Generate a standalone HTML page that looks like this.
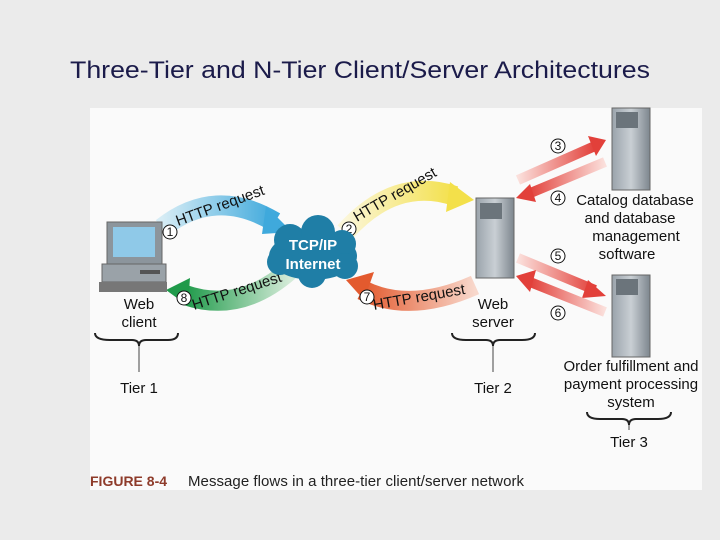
<!DOCTYPE html>
<html><head><meta charset="utf-8"><style>
html,body{margin:0;padding:0;background:#ebebeb;width:720px;height:540px;overflow:hidden}
</style></head><body>
<svg width="720" height="540" xmlns="http://www.w3.org/2000/svg" font-family="Liberation Sans, sans-serif">
<defs>
<linearGradient id="bl" x1="0" x2="1"><stop offset="0" stop-color="#d6ecf5"/><stop offset="1" stop-color="#3fa9dc"/></linearGradient>
<linearGradient id="ye" x1="0" x2="1"><stop offset="0" stop-color="#fbf6d8"/><stop offset="1" stop-color="#f3e04a"/></linearGradient>
<linearGradient id="gr" x1="1" x2="0"><stop offset="0" stop-color="#d4ebd8"/><stop offset="1" stop-color="#1f9a4a"/></linearGradient>
<linearGradient id="rd" x1="1" x2="0"><stop offset="0" stop-color="#f8d8cc"/><stop offset="1" stop-color="#e35a2e"/></linearGradient>
<linearGradient id="rr" x1="0" x2="1"><stop offset="0" stop-color="#fbe0dc"/><stop offset="1" stop-color="#e2403a"/></linearGradient>
<linearGradient id="rl" x1="1" x2="0"><stop offset="0" stop-color="#fbe0dc"/><stop offset="1" stop-color="#e2403a"/></linearGradient>
<linearGradient id="srv" x1="0" x2="1"><stop offset="0" stop-color="#9aa3ab"/><stop offset="0.5" stop-color="#c9cfd4"/><stop offset="1" stop-color="#7d868e"/></linearGradient>
</defs>
<rect x="0" y="0" width="720" height="540" fill="#ebebeb"/>
<text x="70" y="78" font-size="24" fill="#1b1b4a" textLength="580" lengthAdjust="spacingAndGlyphs">Three-Tier and N-Tier Client/Server Architectures</text>
<rect x="90" y="108" width="612" height="382" fill="#fafafa"/>

<!-- arrows -->
<path d="M162 228 Q215 186 275 222" stroke="url(#bl)" stroke-width="20" fill="none"/>
<polygon points="266,206 292,232 262,234" fill="#3fa9dc"/>
<path d="M345 232 Q395 176 455 196" stroke="url(#ye)" stroke-width="20" fill="none"/>
<polygon points="450,182 474,200 446,212" fill="#f3e04a"/>
<path d="M290 270 Q240 314 185 295" stroke="url(#gr)" stroke-width="20" fill="none"/>
<polygon points="166,290 190,278 188,306" fill="#1f9a4a"/>
<path d="M475 285 Q410 314 362 290" stroke="url(#rd)" stroke-width="20" fill="none"/>
<polygon points="346,280 374,272 364,300" fill="#e35a2e"/>
<!-- tier3 arrows -->
<path d="M518 180 L595 146" stroke="url(#rr)" stroke-width="10" fill="none"/>
<polygon points="606,140 588,136 596,156" fill="#e2403a"/>
<path d="M605 162 L528 194" stroke="url(#rl)" stroke-width="10" fill="none"/>
<polygon points="516,198 530,184 536,202" fill="#e2403a"/>
<path d="M518 258 L595 290" stroke="url(#rr)" stroke-width="10" fill="none"/>
<polygon points="606,296 588,280 582,298" fill="#e2403a"/>
<path d="M605 312 L530 282" stroke="url(#rl)" stroke-width="10" fill="none"/>
<polygon points="516,276 536,270 530,292" fill="#e2403a"/>

<!-- arrow labels -->
<g font-size="15" fill="#111">
<text x="178" y="226" transform="rotate(-20 178 226)">HTTP request</text>
<text x="357" y="222" transform="rotate(-30 357 222)">HTTP request</text>
<text x="194" y="310" transform="rotate(-18 194 310)">HTTP request</text>
<text x="374" y="310" transform="rotate(-10 374 310)">HTTP request</text>
</g>
<g font-size="12" fill="#111" text-anchor="middle">
<circle cx="170" cy="232" r="7" fill="#fff" stroke="#111"/><text x="170" y="236">1</text>
<circle cx="349" cy="229" r="7" fill="#fff" stroke="#111"/><text x="349" y="233">2</text>
<circle cx="184" cy="298" r="7" fill="#fff" stroke="#111"/><text x="184" y="302">8</text>
<circle cx="367" cy="297" r="7" fill="#fff" stroke="#111"/><text x="367" y="301">7</text>
<circle cx="558" cy="146" r="7" fill="#fff" stroke="#111"/><text x="558" y="150">3</text>
<circle cx="558" cy="198" r="7" fill="#fff" stroke="#111"/><text x="558" y="202">4</text>
<circle cx="558" cy="256" r="7" fill="#fff" stroke="#111"/><text x="558" y="260">5</text>
<circle cx="558" cy="313" r="7" fill="#fff" stroke="#111"/><text x="558" y="317">6</text>
</g>

<!-- cloud -->
<g fill="#1f7ea6">
<ellipse cx="313" cy="256" rx="44" ry="24"/>
<circle cx="290" cy="240" r="16"/><circle cx="318" cy="232" r="17"/><circle cx="342" cy="244" r="14"/>
<circle cx="280" cy="262" r="13"/><circle cx="345" cy="266" r="13"/><circle cx="312" cy="274" r="14"/>
</g>
<text x="313" y="250" text-anchor="middle" font-size="15" font-weight="bold" fill="#fff">TCP/IP</text>
<text x="313" y="269" text-anchor="middle" font-size="15" font-weight="bold" fill="#fff">Internet</text>

<!-- computer -->
<rect x="107" y="222" width="55" height="42" fill="#8c959c" stroke="#666"/>
<rect x="113" y="227" width="42" height="30" fill="#8fc9e8"/>
<rect x="102" y="264" width="64" height="18" fill="#9aa2a8" stroke="#666"/>
<rect x="140" y="270" width="20" height="4" fill="#555"/>
<rect x="99" y="282" width="68" height="10" fill="#777"/>
<text x="139" y="309" text-anchor="middle" font-size="15" fill="#111">Web</text>
<text x="139" y="327" text-anchor="middle" font-size="15" fill="#111">client</text>
<path d="M95 333 Q95 340 110 340 L132 340 Q139 340 139 346 Q139 340 146 340 L168 340 Q178 340 178 333" stroke="#222" stroke-width="2" fill="none"/>
<line x1="139" y1="346" x2="139" y2="372" stroke="#444"/>
<text x="139" y="393" text-anchor="middle" font-size="15" fill="#111">Tier 1</text>

<!-- web server -->
<rect x="476" y="198" width="38" height="80" fill="url(#srv)" stroke="#666"/>
<rect x="480" y="203" width="22" height="16" fill="#6b747b"/>
<text x="493" y="309" text-anchor="middle" font-size="15" fill="#111">Web</text>
<text x="493" y="327" text-anchor="middle" font-size="15" fill="#111">server</text>
<path d="M452 333 Q452 340 466 340 L486 340 Q493 340 493 346 Q493 340 500 340 L522 340 Q535 340 535 333" stroke="#222" stroke-width="2" fill="none"/>
<line x1="493" y1="346" x2="493" y2="372" stroke="#444"/>
<text x="493" y="393" text-anchor="middle" font-size="15" fill="#111">Tier 2</text>

<!-- tier 3 servers -->
<rect x="612" y="108" width="38" height="82" fill="url(#srv)" stroke="#666"/>
<rect x="616" y="112" width="22" height="16" fill="#6b747b"/>
<rect x="612" y="275" width="38" height="82" fill="url(#srv)" stroke="#666"/>
<rect x="616" y="279" width="22" height="16" fill="#6b747b"/>
<g font-size="15" fill="#111" text-anchor="middle">
<text x="635" y="205">Catalog database</text>
<text x="630" y="223">and database</text>
<text x="636" y="241">management</text>
<text x="627" y="259">software</text>
<text x="631" y="371">Order fulfillment and</text>
<text x="631" y="389">payment processing</text>
<text x="631" y="407">system</text>
<text x="629" y="447">Tier 3</text>
</g>
<path d="M587 412 Q587 419 600 419 L622 419 Q629 419 629 425 Q629 419 636 419 L658 419 Q671 419 671 412" stroke="#222" stroke-width="2" fill="none"/>
<line x1="629" y1="425" x2="629" y2="430" stroke="#444"/>

<text x="90" y="486" font-size="14" font-weight="bold" fill="#8e3b2a">FIGURE 8-4</text>
<text x="188" y="486" font-size="15" fill="#222" textLength="336">Message flows in a three-tier client/server network</text>
</svg>
</body></html>
